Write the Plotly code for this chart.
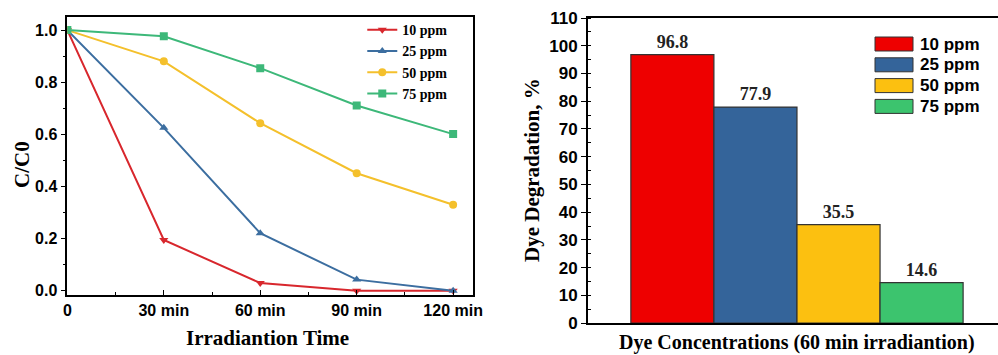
import plotly.graph_objects as go

# ---------------- data ----------------
time_vals = [0, 30, 60, 90, 120]
time_labels = ["0", "30 min", "60 min", "90 min", "120 min"]
series_names = ["10 ppm", "25 ppm", "50 ppm", "75 ppm"]
c_10 = [1.0, 0.195, 0.03, 0.0, 0.0]
c_25 = [1.0, 0.625, 0.221, 0.043, 0.0]
c_50 = [1.0, 0.88, 0.643, 0.451, 0.33]
c_75 = [1.0, 0.976, 0.854, 0.711, 0.601]
degradation = [96.8, 77.9, 35.5, 14.6]

line_colors = ["#D8272D", "#3C6EA0", "#F4C02C", "#3DB879"]
bar_colors = ["#EE0000", "#34649A", "#FCC010", "#3CC46E"]
markers = ["triangle-down", "triangle-up", "circle", "square"]

SERIF = "Liberation Serif, Times New Roman, serif"
SANS = "Liberation Sans, Arial, sans-serif"

fig = go.Figure()

# ---------------- left: line chart ----------------
for name, ys, col, sym in zip(series_names, [c_10, c_25, c_50, c_75], line_colors, markers):
    fig.add_trace(go.Scatter(
        x=time_vals, y=ys, name=name, mode="lines+markers",
        line=dict(color=col, width=2),
        marker=dict(symbol=sym, size=8, color=col),
        xaxis="x", yaxis="y", legend="legend",
    ))

# ---------------- right: bar chart ----------------
for i, (name, val, col) in enumerate(zip(series_names, degradation, bar_colors)):
    fig.add_trace(go.Bar(
        x=[i], y=[val], name=name, width=1,
        marker=dict(color=col, line=dict(color="#333333", width=1.2)),
        text=[f"{val:.1f}"], textposition="outside",
        textfont=dict(family=SERIF, size=18, color="#222222", weight="bold"),
        cliponaxis=False,
        xaxis="x2", yaxis="y2", showlegend=False,
    ))

axis_common = dict(showline=True, linecolor="black", linewidth=1.6, automargin=False,
                   tickcolor="black", ticklen=5, tickwidth=1.3, showgrid=False, zeroline=False)

fig.update_layout(
    width=998, height=355, autosize=False,
    margin=dict(l=0, r=0, t=0, b=0, pad=0, autoexpand=False),
    paper_bgcolor="white", plot_bgcolor="white",
    barmode="overlay",
    xaxis=dict(domain=[0.0675, 0.474], range=[0, 126.2], ticks="inside",
               tickvals=time_vals, ticktext=time_labels, mirror=True,
               tickfont=dict(family=SANS, size=16, color="black", weight="bold"),
               minor=dict(dtick=15, tick0=0, ticks="inside", ticklen=3, tickcolor="black"),
               anchor="y", **axis_common),
    yaxis=dict(domain=[0.169, 0.952], range=[-0.016, 1.05], dtick=0.2, tickformat=".1f",
               mirror=True, ticks="outside",
               tickfont=dict(family=SANS, size=16, color="black", weight="bold"),
               minor=dict(dtick=0.1, ticks="outside", ticklen=3, tickcolor="black"),
               anchor="x", **axis_common),
    xaxis2=dict(domain=[0.589, 1.0], range=[-1.018, 3.92], showticklabels=False,
                mirror=True, anchor="y2", automargin=False,
                showline=True, linecolor="black", linewidth=1.6, ticks="",
                showgrid=False, zeroline=False),
    yaxis2=dict(domain=[0.09, 0.949], range=[0, 110], dtick=10, ticks="outside",
                tickfont=dict(family=SANS, size=17, color="black", weight="bold"),
                minor=dict(dtick=5, ticks="inside", ticklen=3, tickcolor="black"),
                anchor="x2", **axis_common),
    legend=dict(x=0.363, y=0.96, xanchor="left", yanchor="top",
                bgcolor="rgba(0,0,0,0)", borderwidth=0,
                font=dict(family=SERIF, size=14, color="black", weight="bold"),
                itemwidth=30, tracegroupgap=0),
)

# axis titles
fig.add_annotation(text="<b>C/C0</b>", x=22 / 998, y=1 - 165 / 355, xref="paper", yref="paper",
                   xanchor="center", yanchor="middle",
                   textangle=-90, showarrow=False,
                   font=dict(family=SERIF, size=21, color="black"))
fig.add_annotation(text="<b>Irradiantion Time</b>", x=267 / 998, y=1 - 338 / 355, xref="paper", yref="paper",
                   xanchor="center", yanchor="middle",
                   showarrow=False, font=dict(family=SERIF, size=21, color="black"))
fig.add_annotation(text="<b>Dye Degradation, %</b>", x=532 / 998, y=1 - 170 / 355, xref="paper", yref="paper",
                   xanchor="center", yanchor="middle",
                   textangle=-90, showarrow=False,
                   font=dict(family=SERIF, size=21, color="black"))
fig.add_annotation(text="<b>Dye Concentrations (60 min irradiantion)</b>", x=797 / 998, y=0.0,
                   xref="paper", yref="paper", xanchor="center", yanchor="bottom", showarrow=False,
                   borderpad=0, font=dict(family=SERIF, size=20, color="black"))

# manual legend for the bar chart (boxes + labels)
row_top = 37
row_step = 20.8
for k, (name, col) in enumerate(zip(series_names, bar_colors)):
    y0 = row_top + k * row_step
    fig.add_shape(type="rect", xref="paper", yref="paper",
                  x0=875 / 998, x1=913 / 998, y0=1 - (y0 + 14) / 355, y1=1 - y0 / 355,
                  fillcolor=col, line=dict(color="#333333", width=1))
    fig.add_annotation(text=f"<b>{name}</b>", x=918 / 998, y=1 - (y0 + 7) / 355,
                       xref="paper", yref="paper", xanchor="left", yanchor="middle",
                       showarrow=False, font=dict(family=SANS, size=17, color="black"))

fig.write_html("out.html")
